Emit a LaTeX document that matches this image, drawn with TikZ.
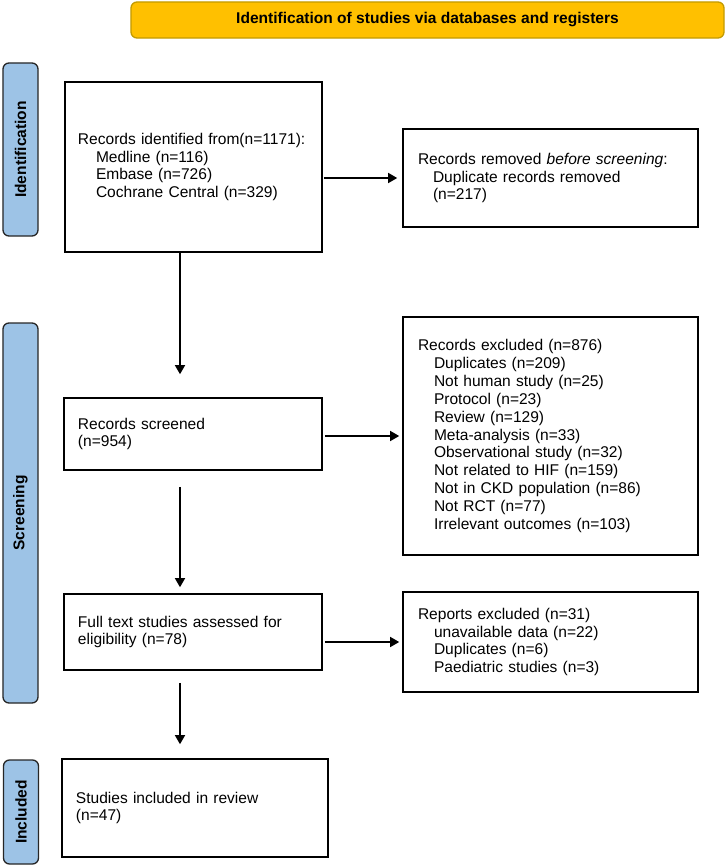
\documentclass[tikz,border=0pt]{standalone}
\usepackage{fontspec}
\setmainfont{Liberation Sans}
\usepackage{tikz}
\usetikzlibrary{arrows.meta,positioning,calc}
\definecolor{phaseblue}{HTML}{9DC3E6}
\definecolor{headgold}{HTML}{FFC000}
\definecolor{headedge}{HTML}{C49B00}
\tikzstyle{box} = [draw, line width=1.6bp, rectangle, align=left, inner ysep=0pt, font=\fontsize{15.6}{18}\selectfont]
\tikzstyle{phase} = [draw=black!85, line width=1.3bp, rounded corners=6bp, fill=phaseblue, inner sep=0pt, minimum height=35bp, rotate=90, font=\fontsize{15.6}{18}\selectfont\bfseries]
\tikzstyle{line} = [draw, line width=1.4bp, -{Triangle[length=9bp,width=10bp]}]

\begin{document}
\begin{tikzpicture}[x=1bp,y=-1bp]
      \useasboundingbox (0,0) rectangle (726,866);

      % header and phases
      \node [draw=headedge, line width=1.3bp, rounded corners=6bp, fill=headgold, minimum width=593bp, minimum height=36bp, font=\fontsize{15.6}{18}\selectfont\bfseries] (head) at (427.5,20) {Identification of studies via databases and registers};
      \node [phase, minimum width=173bp] (pident) at (20.5,149.5) {Identification};
      \node [phase, minimum width=380bp] (pscreen) at (20.5,513) {Screening};
      \node [phase, minimum width=104bp] (pincl) at (21,812) {Included};

      % left column
      \node [box, text width=231bp, inner xsep=13bp, minimum height=170bp] (ident) at (193.5,167) {Records identified from(n=1171):\\ \hspace*{18bp}Medline (n=116)\\ \hspace*{18bp}Embase (n=726)\\ \hspace*{18bp}Cochrane Central (n=329)};
      \node [box, text width=230bp, inner xsep=14bp, minimum height=72bp] (screen) at (193,434) {Records screened\\ (n=954)};
      \node [box, text width=230bp, inner xsep=14bp, minimum height=76bp] (full) at (193,632) {Full text studies assessed for\\ eligibility (n=78)};
      \node [box, text width=238bp, inner xsep=14bp, minimum height=98bp] (incl) at (195,808) {Studies included in review\\ (n=47)};

      % right column
      \node [box, text width=265bp, inner xsep=15bp, minimum height=98bp] (removed) at (550.5,178) {Records removed \textit{before screening}:\\ \hspace*{15bp}Duplicate records removed\\ \hspace*{15bp}(n=217)};
      \node [box, text width=265bp, inner xsep=15bp, minimum height=238bp] (excl) at (550.5,436) {Records excluded (n=876)\\ \hspace*{16bp}Duplicates (n=209)\\ \hspace*{16bp}Not human study (n=25)\\ \hspace*{16bp}Protocol (n=23)\\ \hspace*{16bp}Review (n=129)\\ \hspace*{16bp}Meta-analysis (n=33)\\ \hspace*{16bp}Observational study (n=32)\\ \hspace*{16bp}Not related to HIF (n=159)\\ \hspace*{16bp}Not in CKD population (n=86)\\ \hspace*{16bp}Not RCT (n=77)\\ \hspace*{16bp}Irrelevant outcomes (n=103)};
      \node [box, text width=265bp, inner xsep=15bp, minimum height=100bp] (reports) at (550.5,642) {Reports excluded (n=31)\\ \hspace*{16bp}unavailable data (n=22)\\ \hspace*{16bp}Duplicates (n=6)\\ \hspace*{16bp}Paediatric studies (n=3)};

      % arrows
      \coordinate (mid) at (180,0);
      \path [line, shorten >=23bp] (mid |- ident.south) -- (mid |- screen.north);
      \path [line, shorten <=16bp, shorten >=6bp] (mid |- screen.south) -- (mid |- full.north);
      \path [line, shorten <=12bp, shorten >=14bp] (mid |- full.south) -- (mid |- incl.north);

      \path [line, shorten <=1bp, shorten >=5bp] (removed.west -| ident.east) -- (removed.west);
      \path [line, shorten <=2bp, shorten >=3bp] (excl.west -| screen.east) -- (excl.west);
      \path [line, shorten <=2bp, shorten >=3bp] (reports.west -| full.east) -- (reports.west);
    \end{tikzpicture}
\end{document}
